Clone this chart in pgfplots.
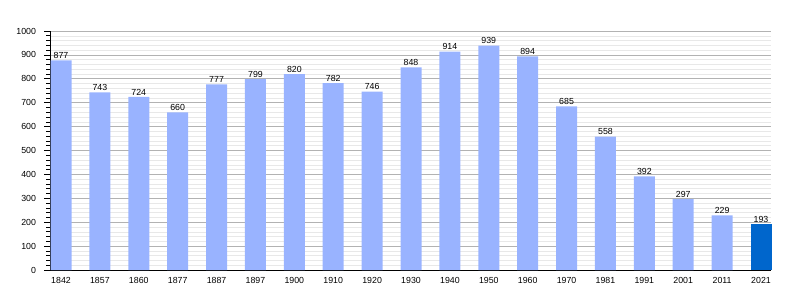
\documentclass[border=0pt]{standalone}
\usepackage{pgfplots}
\pgfplotsset{compat=1.18}
\usepackage{fontspec}
\setmainfont{Liberation Sans}
\definecolor{barblue}{HTML}{99B3FF}
\definecolor{lastblue}{HTML}{0066CC}
\begin{document}
\begin{tikzpicture}
\begin{axis}[
  scale only axis, width=721pt, height=239pt,
  xmin=-0.283, xmax=18.257, ymin=0, ymax=1000,
  axis lines*=left,
  axis line style={black, line width=0.8pt},
  xtick={0,...,18},
  xticklabels={1842,1857,1860,1877,1887,1897,1900,1910,1920,1930,1940,1950,1960,1970,1981,1991,2001,2011,2021},
  xtick style={draw=none},
  ytick={0,100,...,1000},
  minor y tick num=4,
  ymajorgrids, yminorgrids,
  major grid style={draw=gray!60, line width=0.6pt},
  minor grid style={draw=gray!18, line width=0.5pt},
  tick align=outside,
  major tick length=5.5pt, minor tick length=3.5pt,
  ytick style={black, line width=0.6pt},
  minor tick style={black, line width=0.6pt},
  tick label style={font=\fontsize{8.8}{10}\selectfont},
  yticklabel style={xshift=-5pt},
  xticklabel style={yshift=2pt},
  /pgf/number format/assume math mode=true,
  /pgf/number format/1000 sep={},
  ybar, bar width=21pt, bar shift=0pt,
  nodes near coords,
  every node near coord/.append style={font=\fontsize{8.8}{10}\selectfont, black, inner sep=1.5pt, /pgf/number format/assume math mode=true},
  clip=false,
]
\addplot[fill=barblue, draw=none] coordinates {
(0,877) (1,743) (2,724) (3,660) (4,777) (5,799) (6,820) (7,782) (8,746) (9,848)
(10,914) (11,939) (12,894) (13,685) (14,558) (15,392) (16,297) (17,229)
};
\addplot[fill=lastblue, draw=none] coordinates {(18,193)};
\end{axis}
\path[use as bounding box] ([xshift=-50pt,yshift=-30pt]current axis.south west) rectangle ([xshift=29pt,yshift=31pt]current axis.north east);
\end{tikzpicture}
\end{document}
